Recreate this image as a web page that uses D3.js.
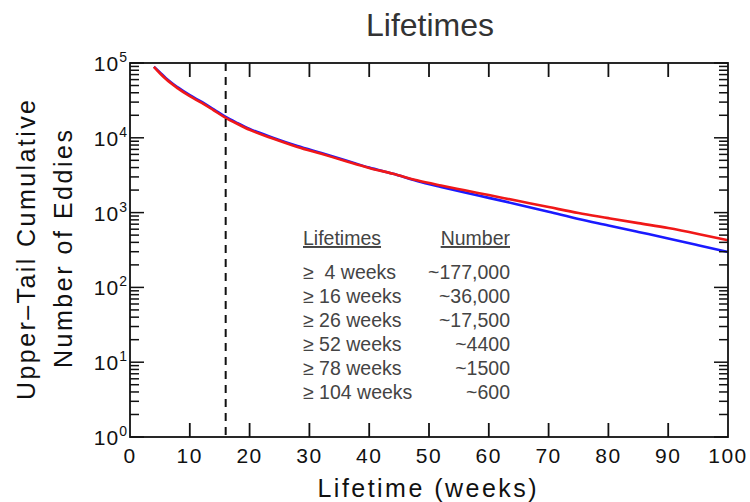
<!DOCTYPE html>
<html>
<head>
<meta charset="utf-8">
<script src="https://cdn.jsdelivr.net/npm/d3@7"></script>
<style>
  html, body { margin: 0; padding: 0; background: #fff; }
  svg { display: block; font-family: "Liberation Sans", Arial, sans-serif; }
</style>
</head>
<body>
<svg id="chart" width="750" height="502"></svg>
<script>
// curve values (weeks vs. upper-tail count)
const weeks     = [4, 5, 6, 8, 10, 12, 14, 16, 18, 20, 24, 28, 32, 36, 40, 44, 48, 52, 56, 60, 65, 70, 75, 80, 85, 90, 95, 100];
const redCounts = [89000, 73000, 61000, 45800, 36000, 29300, 23300, 18500, 15300, 12800, 9700, 7550, 6100, 4900, 3960, 3300, 2700, 2300, 1986, 1714, 1426, 1186, 986, 844, 723, 621, 519, 427];
const blueCounts = [89000, 75000, 62800, 47200, 37100, 30200, 24000, 19000, 15700, 13150, 9950, 7750, 6250, 5020, 4000, 3300, 2640, 2197, 1852, 1574, 1277, 1029, 822, 674, 552, 452, 367, 297];

const cutoffWeek = 16;
const xTicks = [0, 10, 20, 30, 40, 50, 60, 70, 80, 90, 100];
const yDecades = [0, 1, 2, 3, 4, 5];

const tableLifetimes = ["\u2265  4 weeks", "\u2265 16 weeks", "\u2265 26 weeks", "\u2265 52 weeks", "\u2265 78 weeks", "\u2265 104 weeks"];
const tableNumbers = ["~177,000", "~36,000", "~17,500", "~4400", "~1500", "~600"];

const svg = d3.select("#chart");
const pLeft = 130, pRight = 728, pTop = 63, pBottom = 437;

const x = d3.scaleLinear().domain([0, 100]).range([pLeft, pRight]);
const y = d3.scaleLog().domain([1, 1e5]).range([pBottom, pTop]);

// title
svg.append("text")
   .attr("x", 430).attr("y", 36)
   .attr("text-anchor", "middle")
   .attr("font-size", 32)
   .attr("fill", "#333")
   .text("Lifetimes");

// curves (blue first, red on top)
const line = d3.line()
    .x(d => x(d[0]))
    .y(d => y(d[1]))
    .curve(d3.curveMonotoneX);

svg.append("path")
   .attr("d", line(weeks.map((w, i) => [w, blueCounts[i]])))
   .attr("fill", "none").attr("stroke", "#1a1aff").attr("stroke-width", 2.6);
svg.append("path")
   .attr("d", line(weeks.map((w, i) => [w, redCounts[i]])))
   .attr("fill", "none").attr("stroke", "#f01818").attr("stroke-width", 2.6);

// dashed cutoff line
svg.append("line")
   .attr("x1", x(cutoffWeek)).attr("x2", x(cutoffWeek))
   .attr("y1", pTop).attr("y2", pBottom)
   .attr("stroke", "#111").attr("stroke-width", 2)
   .attr("stroke-dasharray", "8,6");

// frame
svg.append("rect")
   .attr("x", pLeft).attr("y", pTop)
   .attr("width", pRight - pLeft).attr("height", pBottom - pTop)
   .attr("fill", "none").attr("stroke", "#111").attr("stroke-width", 1.8);

// x ticks, bottom and top, pointing inward
const xt = svg.append("g").attr("stroke", "#111").attr("stroke-width", 1.8);
xTicks.slice(1, -1).forEach(t => {
  xt.append("line").attr("x1", x(t)).attr("x2", x(t)).attr("y1", pBottom).attr("y2", pBottom - 14);
  xt.append("line").attr("x1", x(t)).attr("x2", x(t)).attr("y1", pTop).attr("y2", pTop + 14);
});
svg.append("g").selectAll("text").data(xTicks).enter().append("text")
   .attr("x", d => x(d)).attr("y", 463)
   .attr("text-anchor", "middle")
   .attr("font-size", 21).attr("letter-spacing", 1.5)
   .attr("fill", "#111")
   .text(d => d);

// y ticks, left and right, major + minor
const yt = svg.append("g").attr("stroke", "#111").attr("stroke-width", 1.5);
yDecades.forEach(d => {
  const v = Math.pow(10, d);
  yt.append("line").attr("x1", pLeft).attr("x2", pLeft + 14).attr("y1", y(v)).attr("y2", y(v));
  yt.append("line").attr("x1", pRight).attr("x2", pRight - 14).attr("y1", y(v)).attr("y2", y(v));
  if (d < 5) {
    for (let k = 2; k <= 9; k++) {
      const m = k * v;
      yt.append("line").attr("x1", pLeft).attr("x2", pLeft + 9).attr("y1", y(m)).attr("y2", y(m));
      yt.append("line").attr("x1", pRight).attr("x2", pRight - 9).attr("y1", y(m)).attr("y2", y(m));
    }
  }
});
const yl = svg.append("g").selectAll("text").data(yDecades).enter().append("text")
   .attr("x", 127).attr("y", d => y(Math.pow(10, d)) + 8)
   .attr("text-anchor", "end")
   .attr("fill", "#111");
yl.append("tspan").attr("font-size", 21).attr("letter-spacing", 1).text("10");
yl.append("tspan").attr("font-size", 14).attr("dy", -9).text(d => d);

// axis titles
svg.append("text")
   .attr("x", 427).attr("y", 497)
   .attr("text-anchor", "middle")
   .attr("font-size", 25)
   .attr("textLength", 219).attr("lengthAdjust", "spacing")
   .attr("fill", "#111")
   .text("Lifetime (weeks)");

svg.append("text")
   .attr("transform", "translate(35,250) rotate(-90)")
   .attr("text-anchor", "middle")
   .attr("font-size", 25)
   .attr("textLength", 300).attr("lengthAdjust", "spacing")
   .attr("fill", "#111")
   .text("Upper\u2013Tail Cumulative");
svg.append("text")
   .attr("transform", "translate(72,249) rotate(-90)")
   .attr("text-anchor", "middle")
   .attr("font-size", 25)
   .attr("textLength", 238).attr("lengthAdjust", "spacing")
   .attr("fill", "#111")
   .text("Number of Eddies");

// inset table
const tbl = svg.append("g").attr("font-size", 19.5).attr("fill", "#444");
tbl.append("text").attr("x", 303).attr("y", 245)
   .attr("text-decoration", "underline").text("Lifetimes");
tbl.append("text").attr("x", 510).attr("y", 245).attr("text-anchor", "end")
   .attr("text-decoration", "underline").text("Number");
tbl.selectAll("text.lt").data(tableLifetimes).enter().append("text")
   .attr("class", "lt")
   .attr("x", 303).attr("y", (d, i) => 279 + i * 24)
   .style("white-space", "pre")
   .text(d => d);
tbl.selectAll("text.nb").data(tableNumbers).enter().append("text")
   .attr("class", "nb")
   .attr("x", 510).attr("y", (d, i) => 279 + i * 24)
   .attr("text-anchor", "end")
   .text(d => d);
</script>
</body>
</html>
